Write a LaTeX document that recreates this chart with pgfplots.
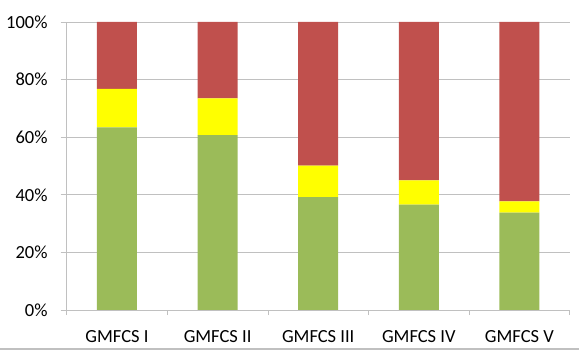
\documentclass[border=0pt]{standalone}
\usepackage{pgfplots}
\pgfplotsset{compat=1.18}
\usepackage{fontspec}
\setmainfont{Carlito}
\definecolor{cgreen}{HTML}{9BBB59}
\definecolor{cyellow}{HTML}{FFFF00}
\definecolor{cred}{HTML}{C0504D}
\definecolor{cgrid}{HTML}{C0C0C0}
\begin{document}
\begin{tikzpicture}
\path[use as bounding box] (-66.7bp,-41bp) rectangle (512.3bp,310bp);
\begin{axis}[
  at={(0,0)}, anchor=south west,
  scale only axis,
  width=503bp, height=288bp,
  xmin=-0.5, xmax=4.5, ymin=0, ymax=100,
  ybar stacked, bar width=40bp,
  axis x line*=bottom, axis y line*=left,
  axis line style={cgrid, line width=0.8pt, -},
  xtick={0,1,2,3,4},
  xticklabels={GMFCS I, GMFCS II, GMFCS III, GMFCS IV, GMFCS V},
  minor xtick={-0.5,0.5,1.5,2.5,3.5,4.5},
  ytick={0,20,40,60,80,100},
  yticklabel={\pgfmathprintnumber{\tick}\%},
  /pgf/number format/assume math mode=true,
  tick align=outside,
  major tick length=6bp,
  minor tick length=5bp,
  x tick style={draw=none},
  minor x tick style={draw=cgrid, line width=0.8pt},
  y tick style={cgrid, line width=0.8pt},
  ymajorgrids, grid style={cgrid, line width=0.8pt},
  tick label style={font=\fontsize{18.5bp}{20bp}\selectfont, text=black},
  xticklabel style={anchor=north, inner sep=0pt, yshift=-14bp},
  yticklabel style={anchor=east, inner sep=0pt, xshift=-13bp},
]
\addplot[fill=cgreen, draw=none] coordinates {(0,63.4) (1,60.7) (2,39.2) (3,36.6) (4,33.8)};
\addplot[fill=cyellow, draw=none] coordinates {(0,13.4) (1,12.8) (2,10.9) (3,8.4) (4,3.9)};
\addplot[fill=cred, draw=none] coordinates {(0,23.2) (1,26.5) (2,49.9) (3,55.0) (4,62.3)};
\end{axis}
\draw[cgrid, line width=1.5pt] (-66.7bp,-39bp) -- (512.3bp,-39bp);
\end{tikzpicture}
\end{document}
